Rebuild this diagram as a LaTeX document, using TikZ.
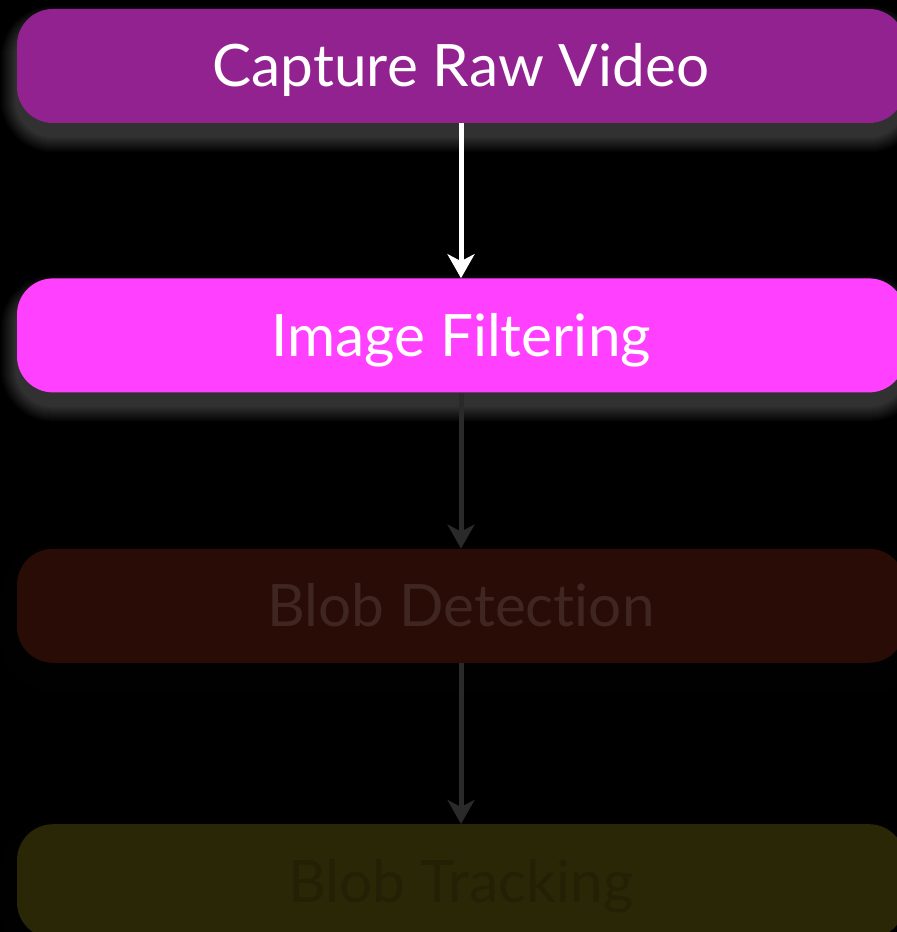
\documentclass[tikz,border=0pt]{standalone}
\usepackage{fontspec}
\setmainfont{Lato}[Ligatures=NoCommon]
\usepackage{tikz}
\usetikzlibrary{arrows.meta, positioning, backgrounds}

\definecolor{capturecol}{HTML}{922290}
\definecolor{filtercol}{HTML}{FF40FF}
\definecolor{detectcol}{HTML}{2A0C06}
\definecolor{detecttext}{HTML}{3F2621}
\definecolor{trackcol}{HTML}{292706}
\definecolor{tracktext}{HTML}{232105}
\definecolor{dimarrow}{HTML}{2A2A2A}

\begin{document}
\begin{tikzpicture}[
			stage/.style={rectangle, rounded corners=36pt, minimum width=888pt, minimum height=114pt, text height=42pt, text depth=0pt, inner sep=0pt, font=\fontsize{58.5}{70}\selectfont},
			arr/.style={-{Stealth[length=24pt, width=27pt, inset=7pt]}, line width=5pt}
			]
			\useasboundingbox (0,0) rectangle (897pt,932pt);
			\node[stage, fill=capturecol, text=white] (capture) at (461pt,866pt) {Capture Raw Video};
			\node[stage, fill=filtercol, text=white, below=155pt of capture] (filter) {Image Filtering};
			\node[stage, fill=detectcol, text=detecttext, below=156pt of filter] (detect) {Blob Detection};
			\node[stage, fill=trackcol, text=tracktext, below=161pt of detect] (track) {Blob Tracking};
			\draw[arr, white] (capture) -- (filter);
			\draw[arr, dimarrow] (filter) -- (detect);
			\draw[arr, dimarrow] (detect) -- (track);
			% black page and soft glow behind the boxes
			\begin{scope}[on background layer]
				\fill[black] (0,0) rectangle (897pt,932pt);
				\foreach \n/\a in {capture/0.014, filter/0.014, detect/0.0026, track/0.0026}
				\foreach \i in {1,...,16}{
					\pgfmathsetmacro\r{36+\i}
					\fill[white, opacity=\a, rounded corners=\r pt]
						([shift={(-\i pt,\i pt-13pt)}]\n.north west) rectangle ([shift={(\i pt,-\i pt-13pt)}]\n.south east);
				}
			\end{scope}
		\end{tikzpicture}
\end{document}
